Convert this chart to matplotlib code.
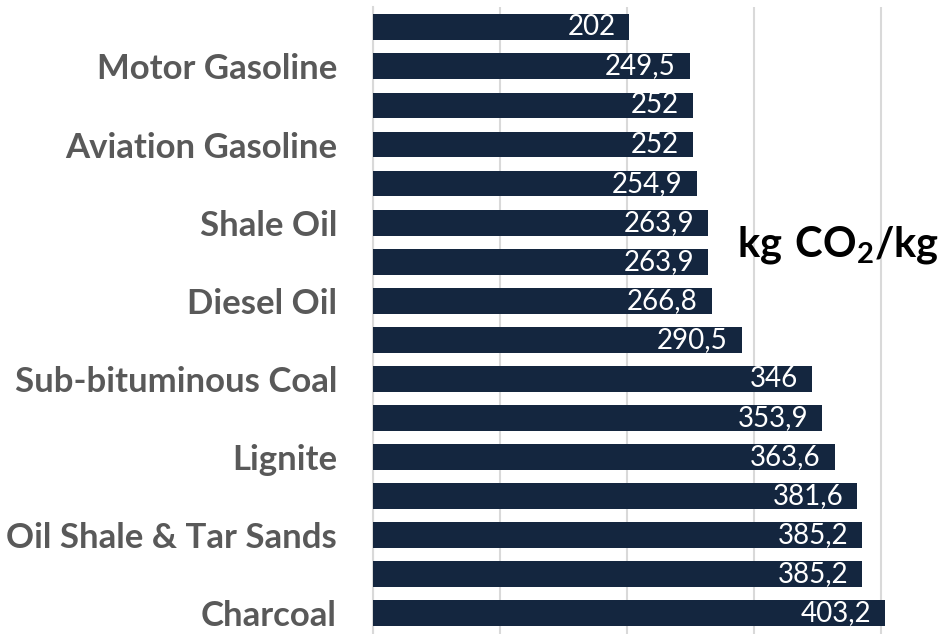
import matplotlib.pyplot as plt

plt.rcParams['font.family'] = ['Lato', 'DejaVu Sans']
plt.rcParams['mathtext.fontset'] = 'custom'
plt.rcParams['mathtext.bf'] = 'Lato:bold'
plt.rcParams['mathtext.rm'] = 'Lato'

# 16 bars, only every other one carries a name in the original
categories = ['', 'Motor Gasoline', '', 'Aviation Gasoline', '', 'Shale Oil', '',
              'Diesel Oil', '', 'Sub-bituminous Coal', '', 'Lignite', '',
              'Oil Shale & Tar Sands', '', 'Charcoal']
values = [202, 249.5, 252, 252, 254.9, 263.9, 263.9, 266.8, 290.5, 346,
          353.9, 363.6, 381.6, 385.2, 385.2, 403.2]
unit_label = r'$\mathbf{kg\ CO_2/kg}$'

bar_color = '#14263f'
grid_color = '#d9d9d9'

fig = plt.figure(figsize=(9.43, 6.34), dpi=100)
ax = fig.add_axes([373/943, 0, 1 - 373/943, 1 - 7/634])

pos = list(range(len(values)))
bars = ax.barh(pos, values, height=0.66, color=bar_color, zorder=3)

for p, v in zip(pos, values):
    txt = ('%g' % v).replace('.', ',')
    ax.annotate(txt, xy=(v, p), xytext=(-10, 0), textcoords='offset points',
                ha='right', va='center', color='white', fontsize=20, zorder=4)

ax.set_xlim(0, 449)
ax.set_ylim(len(values) - 0.47, -0.52)
ax.set_xticks([0, 100, 200, 300, 400])
ax.set_xticklabels([])
ax.xaxis.grid(True, color=grid_color, linewidth=1.5, zorder=0)
ax.tick_params(axis='both', length=0)

ax.set_yticks(pos)
ax.set_yticklabels(categories, fontsize=25, fontweight='bold', color='#595959')
ax.tick_params(axis='y', pad=26)

for s in ['top', 'right', 'bottom']:
    ax.spines[s].set_visible(False)
ax.spines['left'].set_color(grid_color)
ax.spines['left'].set_linewidth(1.5)

fig.text(838/943, 1 - 245/634, unit_label, ha='center', va='center',
         fontsize=30, color='black')

fig.savefig('out.png', dpi=100)
